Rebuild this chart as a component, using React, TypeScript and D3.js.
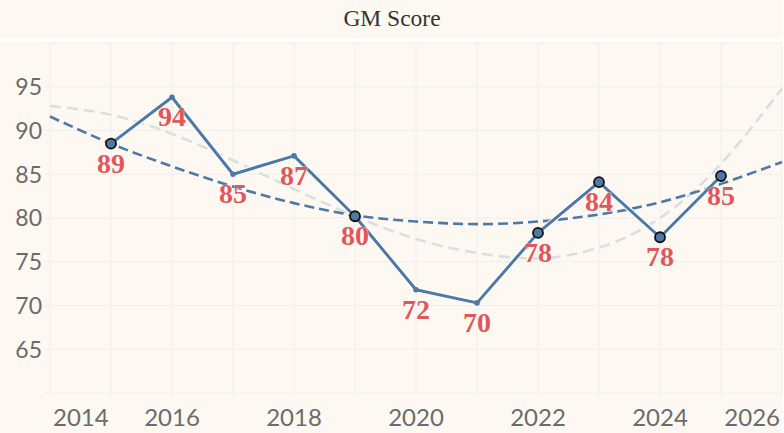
import * as React from 'react';
import * as d3 from 'd3';

const years = [2015, 2016, 2017, 2018, 2019, 2020, 2021, 2022, 2023, 2024, 2025];
const scores = [88.5, 93.8, 85.0, 87.1, 80.2, 71.8, 70.3, 78.3, 84.1, 77.8, 84.8];
const highlighted = [true, false, false, false, true, false, false, true, true, true, true];

const trendYears = [2014, 2015, 2016, 2017, 2018, 2019, 2020, 2021, 2022, 2023, 2024, 2025, 2026];
const trendBlue = [91.6, 88.5, 85.9, 83.6, 81.7, 80.3, 79.6, 79.3, 79.6, 80.4, 81.8, 83.9, 86.4];
const trendGrey = [92.8, 91.8, 89.6, 86.6, 83.3, 80.2, 77.6, 76.0, 75.4, 76.6, 80.0, 86.2, 94.8];

const yTicks = [65, 70, 75, 80, 85, 90, 95];
const xTickLabels = [2014, 2016, 2018, 2020, 2022, 2024, 2026];

const W = 784;
const H = 433;
const margin = { top: 43, right: 2, bottom: 40, left: 50 };

const BLUE = '#4e79a7';
const RED = '#e15759';
const BG = '#fdf9f2';
const GRID = '#efeeea';
const SERIF = "'Liberation Serif', 'Times New Roman', Tinos, serif";
const SANS = "Lato, 'Open Sans', sans-serif";

const App = () => {
  const x = d3.scaleLinear().domain([2014, 2026]).range([margin.left, W - margin.right]);
  const y = d3.scaleLinear().domain([60, 100]).range([H - margin.bottom, margin.top]);

  const line = d3
    .line<number>()
    .x((_, i) => x(years[i]))
    .y((d) => y(d));

  const trend = d3
    .line<number>()
    .x((_, i) => x(trendYears[i]))
    .y((d) => y(d))
    .curve(d3.curveNatural);

  const gridYears = d3.range(2014, 2027);
  const gridValues = d3.range(60, 101, 5);

  return (
    <svg
      width={W}
      height={H}
      style={{ position: 'absolute', left: 0, top: 0, background: '#ffffff' }}
    >
      {/* title band */}
      <rect x={0} y={0} width={W - margin.right} height={39} fill={BG} />
      <text
        x={W / 2}
        y={26}
        textAnchor="middle"
        style={{ fontFamily: SERIF, fontSize: '23.5px' }}
        fill="#333"
      >
        GM Score
      </text>

      {/* plot band */}
      <rect x={0} y={42} width={W - margin.right} height={H - 42} fill={BG} />

      {/* grid */}
      {gridValues.map((v) => (
        <line
          key={'h' + v}
          x1={45}
          x2={W - margin.right}
          y1={y(v)}
          y2={y(v)}
          stroke={GRID}
          strokeWidth={1}
        />
      ))}
      {gridYears.map((yr) => (
        <line
          key={'v' + yr}
          x1={x(yr)}
          x2={x(yr)}
          y1={margin.top}
          y2={y(60) + 4}
          stroke={GRID}
          strokeWidth={1}
        />
      ))}

      {/* y axis labels */}
      {yTicks.map((v) => (
        <text
          key={'yl' + v}
          x={42}
          y={y(v)}
          dy="0.36em"
          textAnchor="end"
          style={{ fontFamily: SANS, fontSize: '23px' }}
          fill="#6b6b6b"
        >
          {v}
        </text>
      ))}

      {/* x axis labels */}
      {xTickLabels.map((yr, i) => {
        const first = i === 0;
        const last = i === xTickLabels.length - 1;
        return (
          <text
            key={'xl' + yr}
            x={first ? x(yr) + 3 : last ? x(yr) - 2 : x(yr)}
            y={426}
            textAnchor={first ? 'start' : last ? 'end' : 'middle'}
            style={{ fontFamily: SANS, fontSize: '24px' }}
            fill="#6b6b6b"
          >
            {yr}
          </text>
        );
      })}

      {/* trend lines */}
      <path
        d={trend(trendGrey) || ''}
        fill="none"
        stroke="#dadfe1"
        strokeWidth={2.6}
        strokeDasharray="11 6"
      />
      <path
        d={trend(trendBlue) || ''}
        fill="none"
        stroke={BLUE}
        strokeWidth={2.6}
        strokeDasharray="10 5"
      />

      {/* main line */}
      <path
        d={line(scores) || ''}
        fill="none"
        stroke="#ffffff"
        strokeWidth={5.5}
        strokeLinejoin="round"
        opacity={0.8}
      />
      <path
        d={line(scores) || ''}
        fill="none"
        stroke={BLUE}
        strokeWidth={3}
        strokeLinejoin="round"
      />

      {/* points */}
      {scores.map((v, i) => (
        <circle
          key={'p' + i}
          cx={x(years[i])}
          cy={y(v)}
          r={highlighted[i] ? 5 : 2.8}
          fill={BLUE}
          stroke={highlighted[i] ? '#111' : 'none'}
          strokeWidth={1.8}
        />
      ))}

      {/* labels */}
      {scores.map((v, i) => (
        <text
          key={'l' + i}
          x={x(years[i])}
          y={y(v) + 29}
          textAnchor="middle"
          style={{ fontFamily: SERIF, fontWeight: 'bold', fontSize: '28px' }}
          fill={RED}
          stroke="#ffffff"
          strokeWidth={0.6}
          paintOrder="stroke"
        >
          {Math.round(v)}
        </text>
      ))}
    </svg>
  );
};

export default App;
